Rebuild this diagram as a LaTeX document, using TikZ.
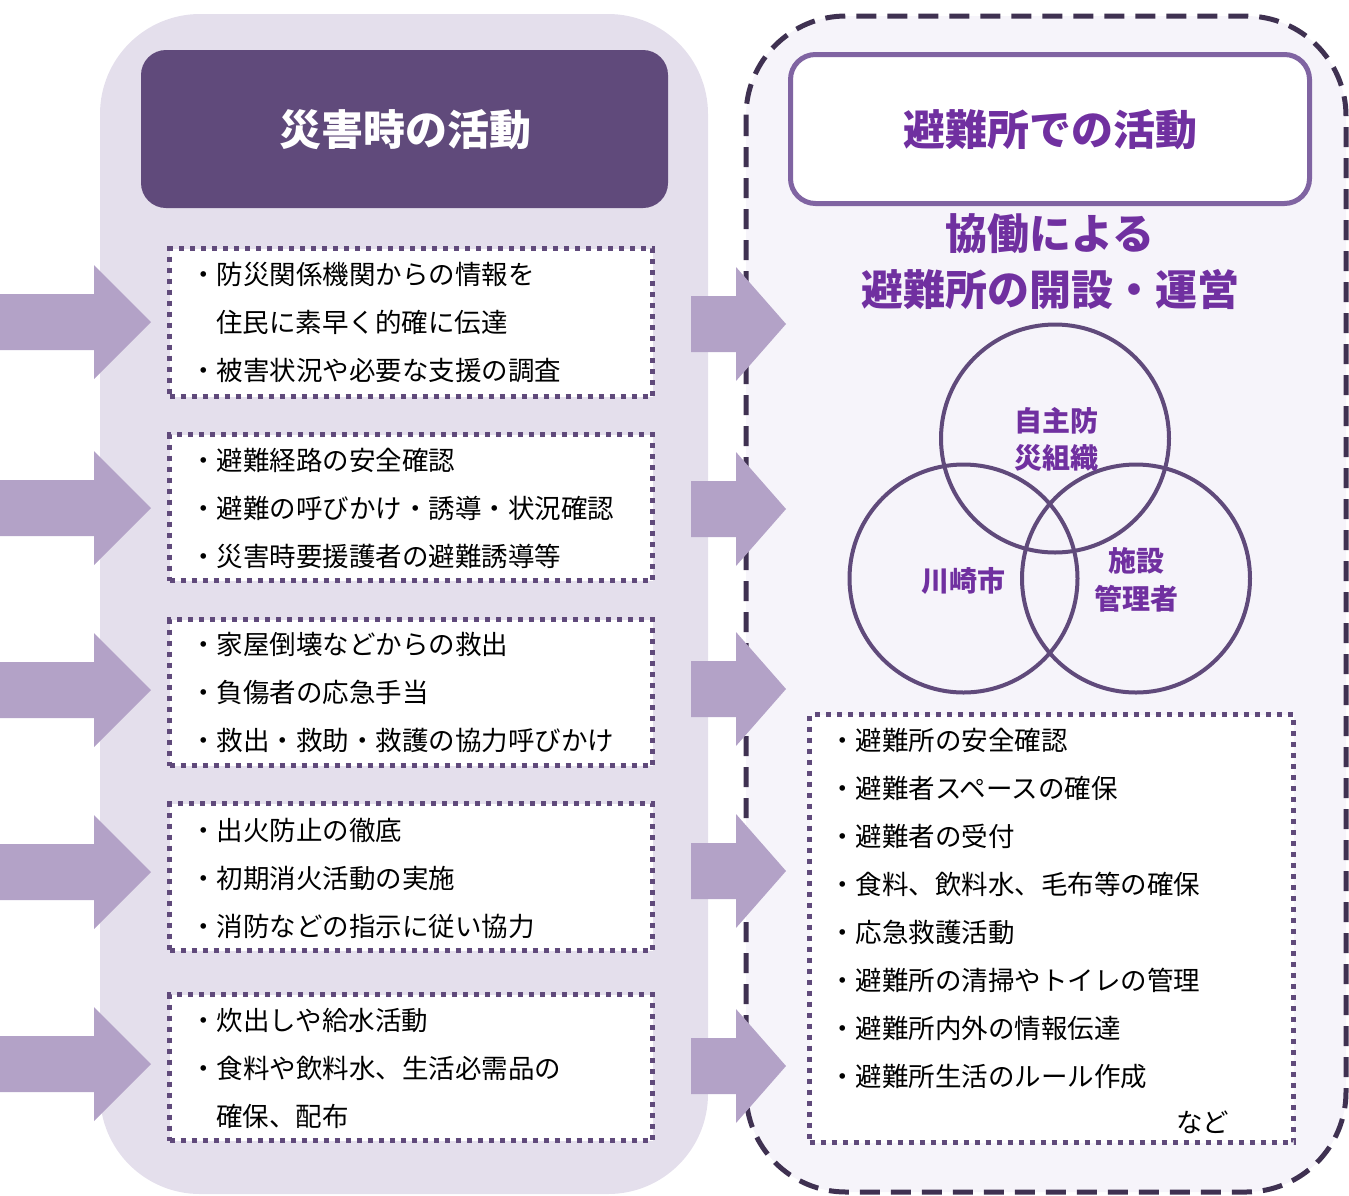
\documentclass[tikz,border=0pt]{standalone}
\usepackage{fontspec}
\newfontfamily\jp{Noto Sans CJK JP}
\definecolor{panelL}{HTML}{E4DFEC}
\definecolor{panelR}{HTML}{F6F4FA}
\definecolor{hdr}{HTML}{604A7B}
\definecolor{dashc}{HTML}{3F3151}
\definecolor{hdrR}{HTML}{8064A2}
\definecolor{ttl}{HTML}{7030A0}
\definecolor{arrowc}{HTML}{B3A2C7}
\tikzset{
  listbox/.style={draw=hdr, fill=white, line width=5pt, dash pattern=on 5pt off 6pt, inner sep=0pt},
  itemtext/.style={anchor=base west, inner sep=0pt, font=\jp\fontsize{26.5}{30}\selectfont, text=black},
  bigtitle/.style={anchor=base, inner sep=0pt, font=\jp\bfseries\fontsize{42}{46}\selectfont},
  venn/.style={draw=hdr, line width=4pt, circle, inner sep=0pt, minimum size=228pt},
  vennlabel/.style={anchor=base, inner sep=0pt, font=\jp\bfseries\fontsize{28}{30}\selectfont, text=ttl},
  bigarrow/.style={fill=arrowc}
}
\begin{document}
\begin{tikzpicture}[x=1pt,y=-1pt]
\useasboundingbox (0,0) rectangle (1349,1195);
% left panel
\fill[panelL, rounded corners=100pt] (100,14) rectangle (708,1194);
\node[fill=hdr, rounded corners=25pt, minimum width=527pt, minimum height=158pt, inner sep=0pt] (hL) at (404.5,129) {};
\node[bigtitle, text=white] (hLt) at (405,145) {災害時の活動};
% right panel
\draw[draw=dashc, fill=panelR, line width=5pt, dash pattern=on 20pt off 11pt, rounded corners=100pt] (746,16) rectangle (1346,1192);
\node[draw=hdrR, fill=white, line width=5pt, rounded corners=25pt, minimum width=519pt, minimum height=149pt, inner sep=0pt] (hR) at (1050,129) {};
\node[bigtitle, text=ttl] (hRt) at (1050,145) {避難所での活動};
\node[bigtitle, text=ttl] (t1) at (1050,249) {協働による};
\node[bigtitle, text=ttl] (t2) at (1050,305) {避難所の開設・運営};
% venn
\node[venn] (cTop) at (1055,438.5) {};
\node[venn] (cLeft) at (963.5,578.5) {};
\node[venn] (cRight) at (1136,578.5) {};
\node[vennlabel] (vT1) at (1056,431) {自主防};
\node[vennlabel] (vT2) at (1056,468) {災組織};
\node[vennlabel] (vL) at (963,591) {川崎市};
\node[vennlabel] (vR1) at (1136,571) {施設};
\node[vennlabel] (vR2) at (1136,609) {管理者};
% left list boxes
\node[listbox, minimum width=483pt, minimum height=148pt] (b1) at (411,322.5) {};
\node[listbox, minimum width=483pt, minimum height=146pt] (b2) at (411,507.5) {};
\node[listbox, minimum width=483pt, minimum height=146pt] (b3) at (411,692.5) {};
\node[listbox, minimum width=483pt, minimum height=147pt] (b4) at (411,877) {};
\node[listbox, minimum width=483pt, minimum height=146pt] (b5) at (411,1067.5) {};
\node[itemtext] (b1a) at (190,284) {・防災関係機関からの情報を};
\node[itemtext] (b1b) at (216,332) {住民に素早く的確に伝達};
\node[itemtext] (b1c) at (190,380) {・被害状況や必要な支援の調査};
\node[itemtext] (b2a) at (190,470) {・避難経路の安全確認};
\node[itemtext] (b2b) at (190,518) {・避難の呼びかけ・誘導・状況確認};
\node[itemtext] (b2c) at (190,566) {・災害時要援護者の避難誘導等};
\node[itemtext] (b3a) at (190,654) {・家屋倒壊などからの救出};
\node[itemtext] (b3b) at (190,702) {・負傷者の応急手当};
\node[itemtext] (b3c) at (190,750) {・救出・救助・救護の協力呼びかけ};
\node[itemtext] (b4a) at (190,840) {・出火防止の徹底};
\node[itemtext] (b4b) at (190,888) {・初期消火活動の実施};
\node[itemtext] (b4c) at (190,936) {・消防などの指示に従い協力};
\node[itemtext] (b5a) at (190,1030) {・炊出しや給水活動};
\node[itemtext] (b5b) at (190,1078) {・食料や飲料水、生活必需品の};
\node[itemtext] (b5c) at (216,1126) {確保、配布};
% right list box
\node[listbox, minimum width=484pt, minimum height=428pt] (rb) at (1051.5,928.5) {};
\node[itemtext] (r1) at (829,750) {・避難所の安全確認};
\node[itemtext] (r2) at (829,798) {・避難者スペースの確保};
\node[itemtext] (r3) at (829,846) {・避難者の受付};
\node[itemtext] (r4) at (829,894) {・食料、飲料水、毛布等の確保};
\node[itemtext] (r5) at (829,942) {・応急救護活動};
\node[itemtext] (r6) at (829,990) {・避難所の清掃やトイレの管理};
\node[itemtext] (r7) at (829,1038) {・避難所内外の情報伝達};
\node[itemtext] (r8) at (829,1086) {・避難所生活のルール作成};
\node[itemtext] (r9) at (1176,1132) {など};
% arrows
\foreach \c in {322,508,690,872,1064}{
  \fill[bigarrow] (0,\c-28) -- (94,\c-28) -- (94,\c-57) -- (151,\c) -- (94,\c+57) -- (94,\c+28) -- (0,\c+28) -- cycle;
}
\foreach \c in {324,509,689,871,1066}{
  \fill[bigarrow] (691,\c-28) -- (736,\c-28) -- (736,\c-57) -- (786,\c) -- (736,\c+57) -- (736,\c+28) -- (691,\c+28) -- cycle;
}
\end{tikzpicture}
\end{document}
